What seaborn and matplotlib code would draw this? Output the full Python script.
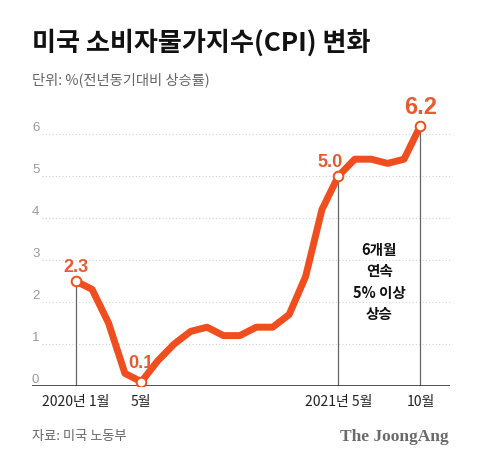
import numpy as np
import pandas as pd
import matplotlib
matplotlib.use("Agg")
import matplotlib.pyplot as plt
import matplotlib.transforms as mtransforms
import seaborn as sns

# Monthly CPI, Jan 2020 .. Oct 2021 (YoY %)
month_idx = list(range(22))
cpi = [2.5, 2.3, 1.5, 0.3, 0.1, 0.6, 1.0, 1.3, 1.4, 1.2, 1.2,
       1.4, 1.4, 1.7, 2.6, 4.2, 5.0, 5.4, 5.4, 5.3, 5.4, 6.2]

# highlighted points and their labels
hl_idx = [0, 4, 16, 21]
hl_text = ["2.3", "0.1", "5.0", "6.2"]
drop_idx = [0, 16, 21]  # vertical guide lines

xtick_idx = [0, 4, 16, 21]
xtick_lab = ["2020년 1월", "5월", "2021년 5월", "10월"]
yticks = [0, 1, 2, 3, 4, 5, 6]

orange = "#F04E1F"
label_col = "#E85A30"

sns.set_theme(style="white")
plt.rcParams["font.family"] = ["Noto Sans CJK KR", "DejaVu Sans"]

df = pd.DataFrame({"m": month_idx, "cpi": cpi})

fig = plt.figure(figsize=(4.8, 4.64), dpi=100)
ax = fig.add_axes([32 / 480, 1 - 387 / 464, 418 / 480, 294 / 464])

ax.set_xlim(-2.66, 22.8)
ax.set_ylim(0, 7)

# dotted gridlines
for v in yticks[1:]:
    ax.plot([0.025, 1], [v, v], transform=ax.get_yaxis_transform(),
            color="#d2d2d2", lw=0.8, ls=(0, (1, 2)), zorder=1)
trans = mtransforms.blended_transform_factory(ax.transAxes, ax.transData)
for v in yticks:
    ax.text(0.0, v + 0.02, str(v), transform=trans, ha="left", va="bottom",
            fontsize=9.5, color="#9a9a9a",
            family=["Liberation Sans", "DejaVu Sans"])

# vertical guides
for i in drop_idx:
    ax.plot([i, i], [0, cpi[i]], color="#666666", lw=0.9, zorder=2)

sns.lineplot(data=df, x="m", y="cpi", ax=ax, color=orange, lw=5,
             solid_joinstyle="round", solid_capstyle="round", zorder=3)

ax.scatter([month_idx[i] for i in hl_idx], [cpi[i] for i in hl_idx],
           s=48, facecolor="white", edgecolor=orange, linewidth=1.4, zorder=4)

# value labels
offsets = {0: (0, 0.35), 4: (0, 0.45), 16: (-0.5, 0.35), 21: (0, 0.45)}
sizes = {0: 13, 4: 13, 16: 13, 21: 17}
for i, t in zip(hl_idx, hl_text):
    dx, dy = offsets[i]
    ax.text(month_idx[i] + dx, cpi[i] + dy, t, ha="center", va="center",
            fontsize=sizes[i], fontweight="bold", color=label_col,
            family=["Liberation Sans", "DejaVu Sans"], zorder=5)

ax.text(18.5, 2.5, "6개월\n연속\n5% 이상\n상승", ha="center", va="center",
        fontsize=10.5, fontweight="bold", color="#111111", linespacing=1.4)

# baseline and ticks
ax.axhline(0, color="#333333", lw=1.2, zorder=2)
for s in ax.spines.values():
    s.set_visible(False)
ax.set_yticks([])
ax.set_xticks(month_idx)
ax.tick_params(axis="x", direction="in", length=5, width=0.8, color="#555555",
               pad=6, labelsize=10, labelcolor="#222222")
ax.set_xticklabels([xtick_lab[xtick_idx.index(i)] if i in xtick_idx else ""
                    for i in month_idx])
ax.set_xlabel("")
ax.set_ylabel("")

# title, unit, footer
fig.text(32 / 480, 1 - 43 / 464, "미국 소비자물가지수(CPI) 변화", fontsize=18.8,
         fontweight="heavy", color="#111111", va="center", ha="left")
fig.text(32 / 480, 1 - 80 / 464, "단위: %(전년동기대비 상승률)", fontsize=10.3,
         color="#666666", va="center", ha="left")
fig.text(32 / 480, 1 - 437 / 464, "자료: 미국 노동부", fontsize=9.5,
         color="#666666", va="center", ha="left")
fig.text(449 / 480, 1 - 437 / 464, "The JoongAng", fontsize=12.5,
         fontweight="bold", color="#6a6a6a", va="center", ha="right",
         family=["Liberation Serif", "DejaVu Serif"])

fig.savefig("out.png", dpi=100)
